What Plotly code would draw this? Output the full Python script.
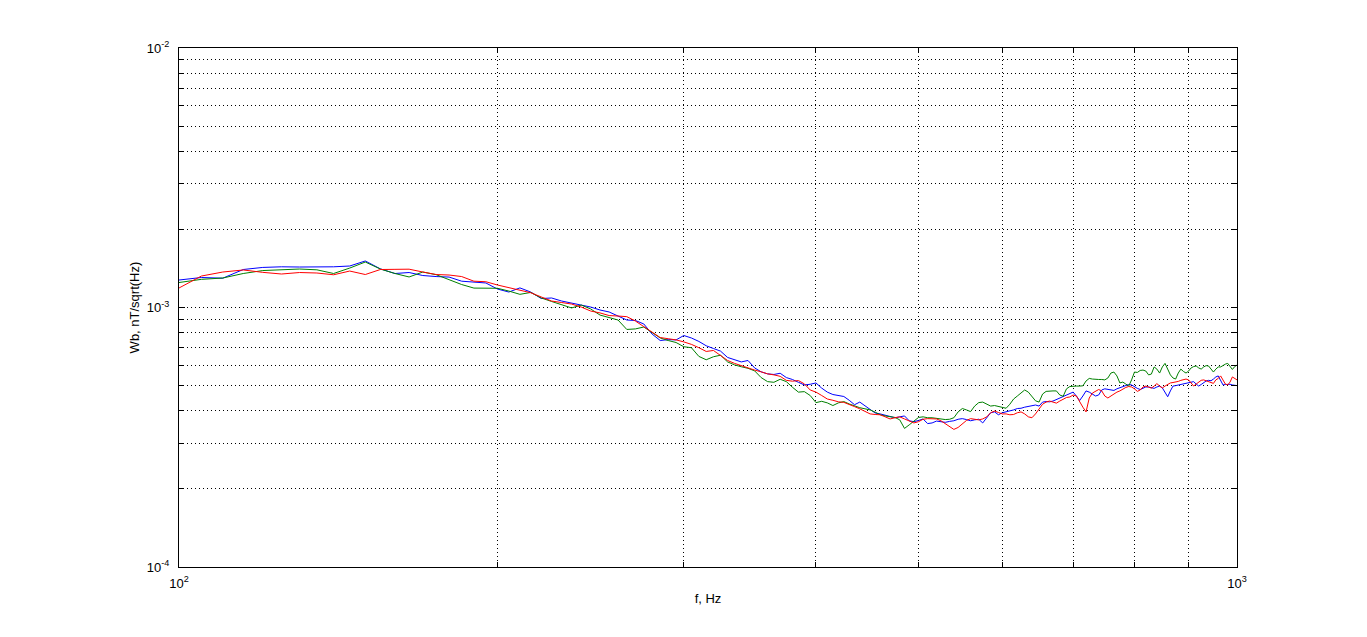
import numpy as np
import plotly.graph_objects as go

# frequency grid of the spectra, Hz
freq_hz = list(range(100, 1005, 5))

# spectral density, in units of 1e-3 nT/sqrt(Hz)
wb_blue = [
    1.276, 1.305, 1.297, 1.401, 1.427, 1.435, 1.432, 1.429, 1.435, 1.445,
    1.511, 1.409, 1.352, 1.364, 1.328, 1.316, 1.310, 1.263, 1.253, 1.243,
    1.178, 1.147, 1.190, 1.147, 1.083, 1.088, 1.059, 1.040, 1.027, 1.004,
    0.978, 0.961, 0.927, 0.895, 0.891, 0.864, 0.790, 0.746, 0.752, 0.750,
    0.780, 0.763, 0.740, 0.712, 0.695, 0.679, 0.642, 0.628, 0.617, 0.625,
    0.585, 0.565, 0.555, 0.552, 0.558, 0.537, 0.528, 0.515, 0.503, 0.506,
    0.512, 0.489, 0.472, 0.462, 0.458, 0.454, 0.439, 0.422, 0.432, 0.419,
    0.406, 0.392, 0.389, 0.384, 0.379, 0.376, 0.379, 0.382, 0.366, 0.363,
    0.367, 0.372, 0.357, 0.359, 0.365, 0.363, 0.361, 0.364, 0.366, 0.371,
    0.373, 0.370, 0.366, 0.369, 0.371, 0.359, 0.376, 0.393, 0.396, 0.386,
    0.393, 0.396, 0.399, 0.403, 0.408, 0.409, 0.413, 0.415, 0.418, 0.421,
    0.417, 0.432, 0.434, 0.433, 0.436, 0.442, 0.447, 0.455, 0.460, 0.466,
    0.472, 0.456, 0.438, 0.456, 0.477, 0.472, 0.464, 0.456, 0.460, 0.481,
    0.486, 0.483, 0.481, 0.479, 0.486, 0.490, 0.494, 0.500, 0.505, 0.503,
    0.494, 0.488, 0.483, 0.490, 0.494, 0.494, 0.492, 0.488, 0.494, 0.498,
    0.490, 0.468, 0.453, 0.477, 0.498, 0.500, 0.503, 0.505, 0.507, 0.512,
    0.514, 0.516, 0.518, 0.507, 0.498, 0.505, 0.514, 0.521, 0.524, 0.522,
    0.530, 0.540, 0.545, 0.526, 0.503, 0.505, 0.507, 0.506, 0.503, 0.501,
    0.500,
]

wb_green = [
    1.248, 1.284, 1.299, 1.352, 1.388, 1.397, 1.407, 1.397, 1.352, 1.419,
    1.497, 1.407, 1.352, 1.311, 1.370, 1.338, 1.280, 1.226, 1.188, 1.190,
    1.186, 1.157, 1.124, 1.143, 1.088, 1.055, 1.027, 0.996, 1.022, 0.987,
    0.935, 0.915, 0.895, 0.823, 0.827, 0.841, 0.798, 0.763, 0.746, 0.733,
    0.706, 0.700, 0.648, 0.629, 0.646, 0.655, 0.617, 0.601, 0.591, 0.583,
    0.570, 0.537, 0.518, 0.515, 0.529, 0.518, 0.493, 0.472, 0.474, 0.458,
    0.430, 0.435, 0.429, 0.419, 0.429, 0.434, 0.425, 0.417, 0.411, 0.407,
    0.403, 0.395, 0.386, 0.382, 0.380, 0.377, 0.369, 0.342, 0.353, 0.364,
    0.377, 0.379, 0.376, 0.376, 0.374, 0.372, 0.370, 0.371, 0.376, 0.396,
    0.408, 0.403, 0.397, 0.417, 0.430, 0.432, 0.424, 0.417, 0.419, 0.415,
    0.413, 0.409, 0.424, 0.444, 0.456, 0.468, 0.481, 0.472, 0.456, 0.437,
    0.432, 0.464, 0.475, 0.477, 0.477, 0.477, 0.460, 0.455, 0.486, 0.496,
    0.498, 0.498, 0.498, 0.499, 0.521, 0.533, 0.530, 0.528, 0.528, 0.528,
    0.526, 0.535, 0.559, 0.564, 0.545, 0.512, 0.516, 0.507, 0.498, 0.526,
    0.564, 0.562, 0.572, 0.574, 0.569, 0.550, 0.554, 0.590, 0.579, 0.559,
    0.590, 0.609, 0.574, 0.550, 0.535, 0.530, 0.559, 0.579, 0.567, 0.559,
    0.569, 0.585, 0.592, 0.595, 0.585, 0.579, 0.590, 0.597, 0.595, 0.579,
    0.564, 0.579, 0.590, 0.590, 0.600, 0.605, 0.609, 0.595, 0.577, 0.592,
    0.600,
]

wb_red = [
    1.189, 1.322, 1.370, 1.395, 1.366, 1.346, 1.364, 1.358, 1.337, 1.382,
    1.340, 1.401, 1.403, 1.405, 1.370, 1.340, 1.334, 1.316, 1.263, 1.257,
    1.221, 1.194, 1.168, 1.140, 1.098, 1.059, 1.045, 1.031, 1.004, 0.969,
    0.953, 0.931, 0.927, 0.922, 0.887, 0.845, 0.800, 0.766, 0.758, 0.750,
    0.737, 0.721, 0.700, 0.677, 0.683, 0.655, 0.625, 0.609, 0.596, 0.585,
    0.574, 0.565, 0.555, 0.550, 0.543, 0.524, 0.520, 0.523, 0.508, 0.481,
    0.472, 0.458, 0.444, 0.439, 0.433, 0.431, 0.424, 0.415, 0.407, 0.397,
    0.389, 0.387, 0.386, 0.379, 0.372, 0.376, 0.379, 0.372, 0.366, 0.359,
    0.363, 0.371, 0.373, 0.373, 0.372, 0.366, 0.357, 0.346, 0.339, 0.345,
    0.356, 0.367, 0.373, 0.372, 0.369, 0.372, 0.379, 0.393, 0.399, 0.394,
    0.389, 0.389, 0.386, 0.387, 0.393, 0.396, 0.389, 0.379, 0.376, 0.389,
    0.406, 0.424, 0.432, 0.436, 0.432, 0.428, 0.436, 0.444, 0.450, 0.452,
    0.460, 0.456, 0.432, 0.413, 0.396, 0.448, 0.468, 0.477, 0.483, 0.477,
    0.456, 0.448, 0.456, 0.466, 0.472, 0.477, 0.486, 0.492, 0.496, 0.494,
    0.486, 0.475, 0.481, 0.494, 0.498, 0.492, 0.489, 0.498, 0.509, 0.498,
    0.490, 0.498, 0.507, 0.512, 0.514, 0.516, 0.519, 0.524, 0.526, 0.530,
    0.526, 0.512, 0.498, 0.507, 0.516, 0.524, 0.526, 0.521, 0.516, 0.512,
    0.510, 0.526, 0.533, 0.545, 0.526, 0.507, 0.503, 0.516, 0.540, 0.533,
    0.526,
]

UNIT = 1e-3

# labelled decades and the unlabelled grid lines in between
x_major = [100, 1000]
x_major_labels = ["10<sup>2</sup>", "10<sup>3</sup>"]
x_minor = [200, 300, 400, 500, 600, 700, 800, 900]
y_major = [1e-4, 1e-3, 1e-2]
y_major_labels = ["10<sup>-4</sup>", "10<sup>-3</sup>", "10<sup>-2</sup>"]
y_minor = [2e-4, 3e-4, 4e-4, 5e-4, 6e-4, 7e-4, 8e-4, 9e-4,
           2e-3, 3e-3, 4e-3, 5e-3, 6e-3, 7e-3, 8e-3, 9e-3]

series = [
    ("blue", wb_blue, "#0000ff"),
    ("green", wb_green, "#008000"),
    ("red", wb_red, "#ff0000"),
]

FONT = "Liberation Sans, Arial, sans-serif"
GRID_DASH = "1px,3px"

fig = go.Figure()

for name, values, color in series:
    fig.add_trace(
        go.Scatter(
            x=freq_hz,
            y=np.array(values) * UNIT,
            mode="lines",
            name=name,
            line=dict(color=color, width=1),
        )
    )

axis_style = dict(
    showline=True,
    linecolor="black",
    linewidth=1,
    mirror="ticks",
    ticks="inside",
    ticklen=6,
    tickcolor="black",
    showgrid=True,
    gridcolor="black",
    gridwidth=1,
    griddash=GRID_DASH,
    zeroline=False,
    tickfont=dict(family=FONT, size=13, color="black"),
)

fig.update_xaxes(
    type="log",
    range=[2, 3],
    tickvals=x_major,
    ticktext=x_major_labels,
    ticklabelstandoff=4,
    minor=dict(tickvals=x_minor, ticks="inside", ticklen=5, tickcolor="black",
               showgrid=True, gridcolor="black", gridwidth=1, griddash=GRID_DASH),
    title=dict(text="f, Hz", standoff=4, font=dict(family=FONT, size=13, color="black")),
    **axis_style,
)
fig.update_yaxes(
    type="log",
    range=[-4, -2],
    tickvals=y_major,
    ticktext=y_major_labels,
    ticklabelstandoff=6,
    minor=dict(tickvals=y_minor, ticks="inside", ticklen=5, tickcolor="black",
               showgrid=True, gridcolor="black", gridwidth=1, griddash=GRID_DASH),
    title=dict(text="Wb, nT/sqrt(Hz)", standoff=4, font=dict(family=FONT, size=13, color="black")),
    **axis_style,
)

fig.update_layout(
    width=1367,
    height=637,
    showlegend=False,
    plot_bgcolor="white",
    paper_bgcolor="white",
    margin=dict(l=171, r=138, t=40, b=78),
)

fig.write_html("out.html")
